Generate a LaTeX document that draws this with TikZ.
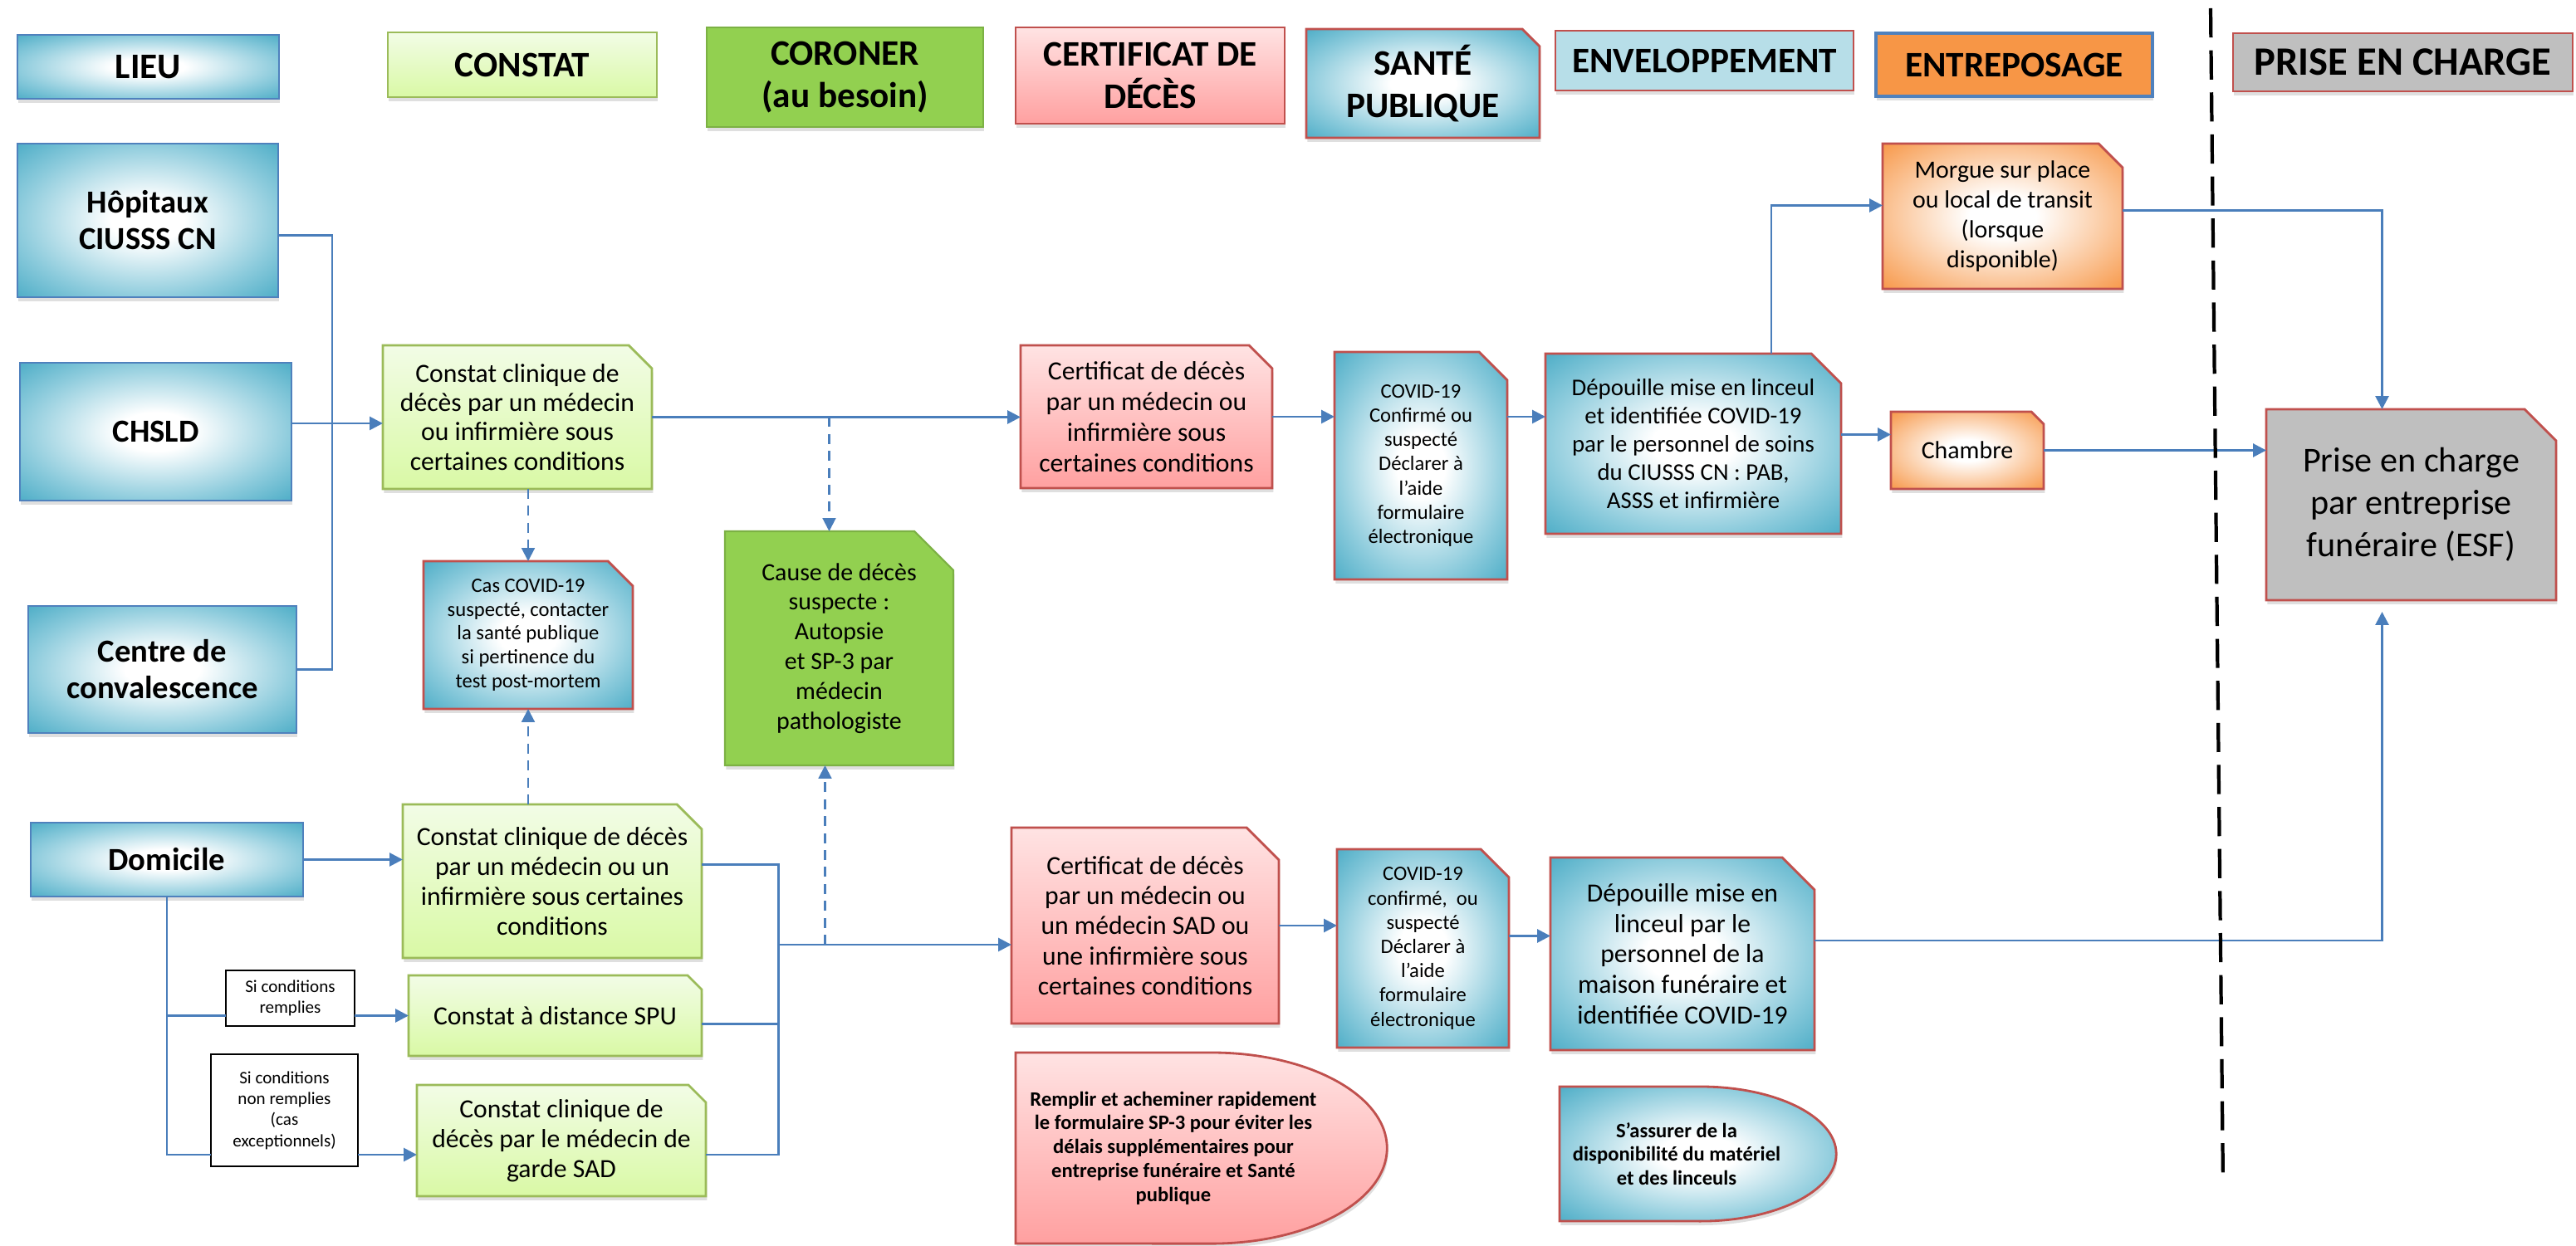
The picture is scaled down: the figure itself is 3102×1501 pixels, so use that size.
\documentclass[tikz,border=0pt]{standalone}
\usepackage{fontspec}
\setmainfont{Carlito}
\usetikzlibrary{calc}
\usetikzlibrary{arrows.meta}
\usetikzlibrary{shadows}
\usetikzlibrary{backgrounds}

\definecolor{bleuaqua}{RGB}{75,172,198}
\definecolor{bleupale}{RGB}{140,203,220}
\definecolor{bleuligne}{RGB}{79,129,189}
\definecolor{bleulien}{RGB}{74,126,187}
\definecolor{rougeligne}{RGB}{192,80,77}
\definecolor{vertligne}{RGB}{155,187,89}
\definecolor{lime}{RGB}{146,208,80}
\definecolor{orangeb}{RGB}{247,150,70}
\definecolor{orangepale}{RGB}{250,190,140}
\definecolor{roseclair}{RGB}{255,227,227}
\definecolor{rosefonce}{RGB}{255,160,160}
\definecolor{vertclair}{RGB}{242,252,230}
\definecolor{vertfonce}{RGB}{217,249,165}
\definecolor{enveloppe}{RGB}{183,222,232}
\definecolor{gris}{RGB}{191,191,191}

\pgfdeclareradialshading{centrebleu}{\pgfpointorigin}{color(0bp)=(white); color(7bp)=(white); color(25bp)=(bleupale); color(36bp)=(bleuaqua); color(50bp)=(bleuaqua)}
\pgfdeclareradialshading{centreorange}{\pgfpointorigin}{color(0bp)=(white); color(7bp)=(white); color(25bp)=(orangepale); color(36bp)=(orangeb); color(50bp)=(orangeb)}

\def\taille#1#2{\fontsize{#1}{#2}\selectfont}
\def\coupe#1#2#3{\path[#3] (#1.south west) -- (#1.north west) -- ($(#1.north east)+(-#2,0)$) -- ($(#1.north east)+(0,#2)$) -- (#1.south east) -- cycle;}
\def\delai#1#2#3#4#5{\path[#5] (#1.south west) -- (#1.north west) -- ++(#2,0) arc[start angle=90, end angle=-90, x radius=#3, y radius=#4] -- cycle;}

\begin{document}
\begin{tikzpicture}[x=0.01cm, y=-0.01cm,
  boite/.style={rectangle, inner sep=0pt, outer sep=0pt, align=center},
  wh/.style 2 args={minimum width=#1*0.01cm, minimum height=#2*0.01cm},
  ombre/.style={drop shadow={opacity=0.25, shadow xshift=0.4pt, shadow yshift=-1.4pt}},
  fondbleu/.style={shade, shading=centrebleu},
  fondorange/.style={shade, shading=centreorange},
  fondrose/.style={top color=roseclair, bottom color=rosefonce},
  fondvert/.style={top color=vertclair, bottom color=vertfonce},
  bordbleu/.style={draw=bleuligne, line width=0.8pt},
  bordrouge/.style={draw=rougeligne, line width=0.8pt},
  bordvert/.style={draw=vertligne, line width=0.8pt},
  titre/.style={font=\taille{12.3}{14.5}\bfseries},
  gras/.style={font=\taille{11}{12.5}\bfseries},
  condition/.style={boite, fill=white, draw=black, line width=0.8pt, font=\taille{6}{7.2}},
  trait/.style={draw=bleulien, line width=0.8pt},
  fleche/.style={trait, -{Triangle[length=4.5pt,width=4.5pt]}},
  pointille/.style={draw=bleulien, line width=0.6pt, dash pattern=on 3.4pt off 2.4pt, -{Triangle[length=4.5pt,width=4.5pt]}}]

\begin{scope}[on background layer]
\fill[white] (0,0) rectangle (3102,1501);
\end{scope}
\useasboundingbox (0,0) rectangle (3102,1501);

\node[boite, wh={315}{77}, fondbleu, bordbleu, ombre, titre] (tLieu) at (178.5,80.5) {LIEU};
\node[boite, wh={324}{78}, fondvert, bordvert, ombre, titre] (tConstat) at (629,78) {CONSTAT};
\node[boite, wh={333}{120}, fill=lime, draw=lime!85!black, line width=0.6pt, ombre, titre] (tCoroner) at (1017.5,93) {CORONER\\(au besoin)};
\node[boite, wh={324}{116}, fondrose, bordrouge, ombre, titre] (tCertif) at (1385,91) {CERTIFICAT DE\\DÉCÈS};
\node[boite, wh={281}{131}, titre] (tSante) at (1713.5,100.5) {SANTÉ\\PUBLIQUE};
\node[boite, wh={359}{72}, fill=enveloppe, bordrouge, ombre, titre] (tEnvel) at (2052.5,73) {ENVELOPPEMENT};
\node[boite, wh={333}{76}, fill=orangeb, draw=bleuligne, line width=1.2pt, ombre, titre] (tEntrepos) at (2425.5,78) {ENTREPOSAGE};
\node[boite, wh={409}{70}, fill=gris, bordrouge, ombre, font=\taille{13.8}{15}\bfseries] (tPrise) at (2893.5,75) {PRISE EN CHARGE};

\node[boite, wh={314}{185}, fondbleu, bordbleu, ombre, gras] (hopitaux) at (178,265.5) {Hôpitaux\\CIUSSS CN};
\node[boite, wh={327}{166}, fondbleu, bordbleu, ombre, gras] (chsld) at (187.5,520) {CHSLD};
\node[boite, wh={323}{153}, fondbleu, bordbleu, ombre, gras] (convalo) at (195.5,806.5) {Centre de\\convalescence};
\node[boite, wh={328}{89}, fondbleu, bordbleu, ombre, gras] (domicile) at (201,1035.5) {Domicile};

\node[boite, wh={324}{173}, font=\taille{9}{10}] (constatA) at (623,502.5) {Constat clinique de\\décès par un médecin\\ou infirmière sous\\certaines conditions};
\node[boite, wh={252}{178}, font=\taille{7}{8.2}] (casCovid) at (636,765) {Cas COVID-19\\suspecté, contacter\\la santé publique\\si pertinence du\\test post-mortem};
\node[boite, wh={360}{185}, font=\taille{9}{10.2}] (constatB) at (665,1061.5) {Constat clinique de décès\\par un médecin ou un\\infirmière sous certaines\\conditions};
\node[boite, wh={353}{97}, font=\taille{9}{10.2}] (spu) at (668.5,1223.5) {Constat à distance SPU};
\node[boite, wh={348}{134}, font=\taille{9}{10.2}] (constatC) at (676,1374) {Constat clinique de\\décès par le médecin de\\garde SAD};
\node[condition, wh={155}{67}] (siOui) at (349.5,1202.5) {Si conditions\\remplies};
\node[condition, wh={177}{135}] (siNon) at (342.5,1337.5) {Si conditions\\non remplies\\(cas\\exceptionnels)};

\node[boite, wh={275}{282}, font=\taille{8.5}{10.2}] (cause) at (1010.5,781) {Cause de décès\\suspecte :\\Autopsie\\et SP-3 par\\médecin\\pathologiste};

\node[boite, wh={303}{172}, font=\taille{9}{10.5}] (certA) at (1380.5,502) {Certificat de décès\\par un médecin ou\\infirmière sous\\certaines conditions};
\node[boite, wh={322}{236}, font=\taille{9}{10.3}] (certB) at (1379,1115) {Certificat de décès\\par un médecin ou\\un médecin SAD ou\\une infirmière sous\\certaines conditions};
\node[boite, wh={380}{230}, font=\taille{7}{8.2}\bfseries] (remplir) at (1413,1383) {Remplir et acheminer rapidement\\le formulaire SP-3 pour éviter les\\délais supplémentaires pour\\entreprise funéraire et Santé\\publique};

\node[boite, wh={208}{274}, font=\taille{7}{8.3}] (covA) at (1711,561) {COVID-19\\Confirmé ou\\suspecté\\Déclarer à\\l’aide\\formulaire\\électronique};
\node[boite, wh={207}{239}, font=\taille{7}{8.3}] (covB) at (1713.5,1142.5) {COVID-19\\confirmé,~ ou\\suspecté\\Déclarer à\\l’aide\\formulaire\\électronique};

\node[boite, wh={356}{217}, font=\taille{8.2}{9.7}] (depA) at (2039,534.5) {Dépouille mise en linceul\\et identifiée COVID-19\\par le personnel de soins\\du CIUSSS CN : PAB,\\ASSS et infirmière};
\node[boite, wh={318}{232}, font=\taille{9}{10.4}] (depB) at (2026,1149) {Dépouille mise en\\linceul par le\\personnel de la\\maison funéraire et\\identifiée COVID-19};
\node[boite, wh={282}{162}, font=\taille{7}{8.2}\bfseries] (assurer) at (2019,1390) {S’assurer de la\\disponibilité du matériel\\et des linceuls};

\node[boite, wh={289}{175}, font=\taille{8.5}{10.2}] (morgue) at (2411.5,260.5) {Morgue sur place\\ou local de transit\\(lorsque\\disponible)};
\node[boite, wh={184}{93}, font=\taille{8.5}{10.2}] (chambre) at (2369,542.5) {Chambre};

\node[boite, wh={349}{230}, font=\taille{12}{14.5}] (prise) at (2903.5,608) {Prise en charge\\par entreprise\\funéraire (ESF)};

\begin{scope}[on background layer]
\coupe{tSante}{21}{fondbleu, bordrouge, ombre}
\coupe{constatA}{28}{fondvert, bordvert, ombre}
\coupe{casCovid}{30}{fondbleu, bordrouge, ombre}
\coupe{constatB}{30}{fondvert, bordvert, ombre}
\coupe{spu}{17}{fondvert, bordvert, ombre}
\coupe{constatC}{21}{fondvert, bordvert, ombre}
\coupe{cause}{47}{fill=lime, draw=lime!85!black, line width=0.6pt, ombre}
\coupe{certA}{28}{fondrose, bordrouge, ombre}
\coupe{certB}{39}{fondrose, bordrouge, ombre}
\coupe{covA}{34}{fondbleu, bordrouge, ombre}
\coupe{covB}{34}{fondbleu, bordrouge, ombre}
\coupe{depA}{36}{fondbleu, bordrouge, ombre}
\coupe{depB}{39}{fondbleu, bordrouge, ombre}
\coupe{morgue}{29}{fondorange, bordrouge, ombre}
\coupe{chambre}{15}{fondorange, bordrouge, ombre}
\coupe{prise}{38}{fill=gris, bordrouge, ombre}
\delai{remplir}{2.36cm}{2.11cm}{1.15cm}{fondrose, bordrouge, ombre}
\delai{assurer}{1.70cm}{1.63cm}{0.81cm}{fondbleu, bordrouge, ombre}
\end{scope}

\coordinate (jLieu) at (400,520);
\coordinate (jConstat) at (937.5,1138);
\coordinate (sepHaut) at (2662,10);
\coordinate (sepBas) at (2677,1426);

\draw[trait] ([yshift=-0.18cm]hopitaux.east) -| (jLieu) |- (convalo.east);
\draw[fleche] ([yshift=0.1cm]chsld.east) -- ([yshift=0.1cm]chsld.east -| constatA.west);
\draw[fleche] (constatA.east) -- (constatA.east -| certA.west);
\draw[pointille] ([xshift=-0.12cm]cause.north |- constatA.east) -- ([xshift=-0.12cm]cause.north);
\draw[pointille] (casCovid.north |- constatA.south) -- (casCovid.north);
\draw[pointille] (casCovid.south |- constatB.north) -- (casCovid.south);
\draw[fleche] (certA.east) -- (certA.east -| covA.west);
\draw[fleche] (covA.east |- certA.east) -- (depA.west |- certA.east);
\draw[fleche] ([xshift=0.94cm]depA.north) |- ([yshift=0.13cm]morgue.west);
\draw[fleche] ([yshift=0.11cm]depA.east) -- ([yshift=0.11cm]depA.east -| chambre.west);
\draw[fleche] ([yshift=0.07cm]morgue.east) -| ([xshift=-0.35cm]prise.north);
\draw[fleche] (chambre.east) -- (chambre.east -| prise.west);

\draw[fleche] (domicile.east) -- (domicile.east -| constatB.west);
\draw[trait] (domicile.south) |- (siOui.west |- spu.west);
\draw[fleche] (siOui.east |- spu.west) -- (spu.west);
\draw[trait] (domicile.south) |- ([yshift=-0.17cm]siNon.west |- constatC.west);
\draw[fleche] ([yshift=-0.17cm]siNon.east |- constatC.west) -- ([yshift=-0.17cm]constatC.west);
\draw[trait] ([yshift=0.2cm]constatB.east) -| (jConstat);
\draw[trait] ([yshift=-0.1cm]spu.east) -| (jConstat);
\draw[trait] ([yshift=-0.17cm]constatC.east) -| (jConstat);
\draw[fleche] (jConstat) -- (jConstat -| certB.west);
\draw[pointille] ([xshift=-0.17cm]cause.south |- jConstat) -- ([xshift=-0.17cm]cause.south);
\draw[fleche] (certB.east) -- (certB.east -| covB.west);
\draw[fleche] ([yshift=0.15cm]covB.east) -- ([yshift=0.15cm]covB.east -| depB.west);
\draw[fleche, shorten >=0.14cm] ([yshift=0.16cm]depB.east) -| ([xshift=-0.35cm]prise.south);

\draw[line width=1.2pt, dash pattern=on 10pt off 4.4pt] (sepHaut) -- (sepBas);
\end{tikzpicture}
\end{document}
